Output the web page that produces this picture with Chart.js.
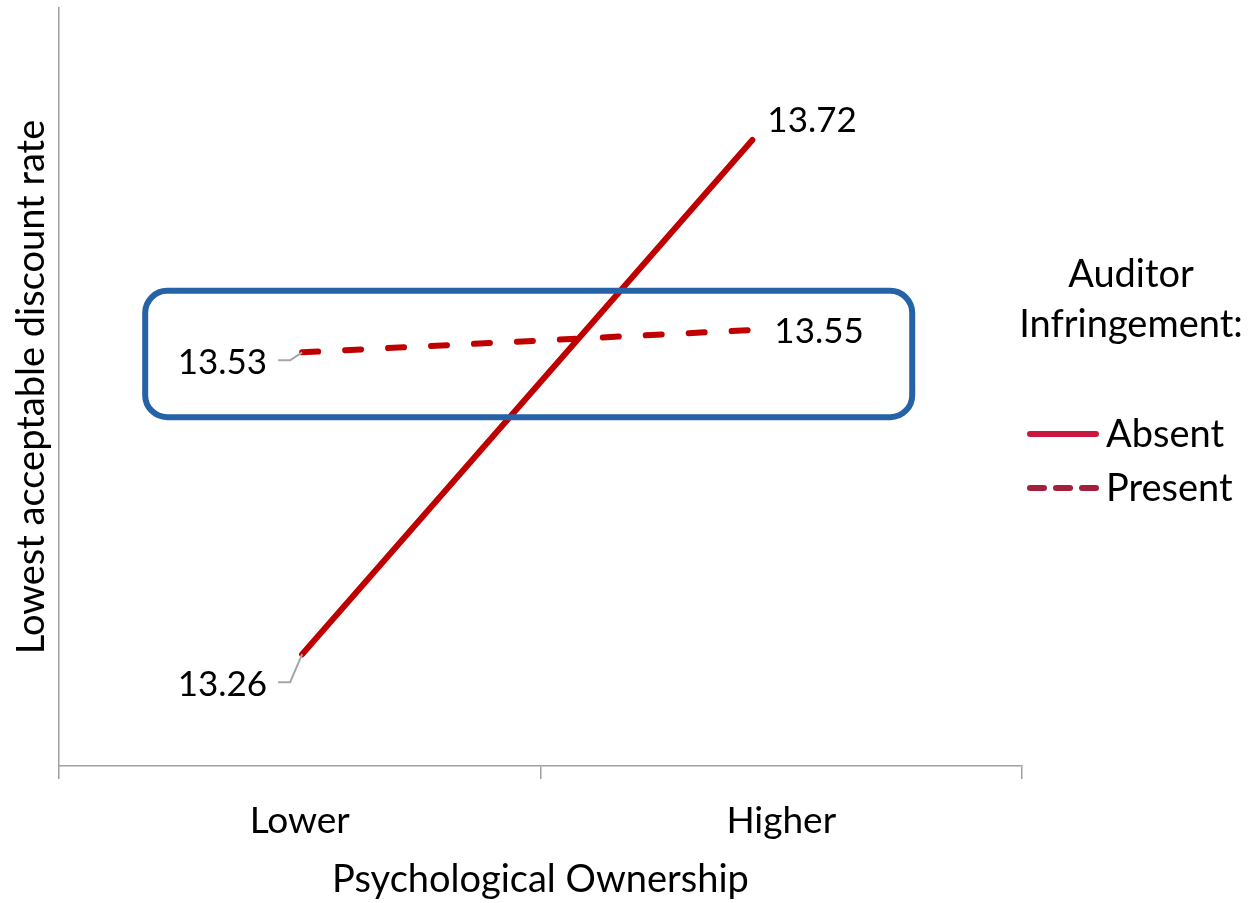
<!DOCTYPE html>
<html>
<head>
<meta charset="utf-8">
<script src="https://cdn.jsdelivr.net/npm/chart.js@4"></script>
<style>
  html, body { margin: 0; padding: 0; background: #fff; }
  #wrap { width: 1250px; height: 903px; }
</style>
</head>
<body>
<div id="wrap"><canvas id="chart" width="1250" height="903"></canvas></div>
<script>
// chart data
const categories = ['Lower', 'Higher'];
const pointPos = [0.505, 1.44];          // where the markers sit along the category axis (0..2)
const absentValues = [13.26, 13.72];
const presentValues = [13.53, 13.55];
const seriesNames = ['Absent', 'Present'];
const legendTitle = ['Auditor', 'Infringement:'];
const xTitle = 'Psychological Ownership';
const yTitle = 'Lowest acceptable discount rate';
const yRange = [13.16, 13.838];
const boxX = [0.179, 1.772];             // highlight box, in axis units
const boxY = [13.472, 13.585];

const FONT = 'Lato';
const AXIS_GREY = '#a0a0a0';

// where each data label goes, relative to its point (px)
const labelPlace = [
    [{dx: -35, dy: 42, align: 'right', leader: true}, {dx: 15, dy: -8, align: 'left'}],
    [{dx: -35, dy: 22, align: 'right', leader: true}, {dx: 22, dy: 13, align: 'left'}]
];

function points(vals){
    return vals.map((v, i) => ({x: pointPos[i], y: v}));
}

const overlay = {
    id: 'overlay',
    afterDatasetsDraw(chart){
        const ctx = chart.ctx;
        const xs = chart.scales.xd, ys = chart.scales.y;

        //highlight box
        const l = xs.getPixelForValue(boxX[0]), r = xs.getPixelForValue(boxX[1]);
        const t = ys.getPixelForValue(boxY[1]), b = ys.getPixelForValue(boxY[0]);
        ctx.save();
        ctx.strokeStyle = '#2562a6';
        ctx.lineWidth = 6;
        ctx.beginPath();
        ctx.roundRect(l, t, r - l, b - t, 22);
        ctx.stroke();
        ctx.restore();

        //data labels
        ctx.save();
        ctx.font = '35px ' + FONT;
        ctx.fillStyle = '#000';
        ctx.textBaseline = 'alphabetic';
        chart.data.datasets.forEach((ds, di) => {
            const meta = chart.getDatasetMeta(di);
            meta.data.forEach((pt, i) => {
                const p = labelPlace[di][i];
                const tx = pt.x + p.dx, ty = pt.y + p.dy;
                ctx.textAlign = p.align;
                ctx.fillText(ds.data[i].y.toFixed(2), tx, ty);
                if(p.leader){
                    ctx.strokeStyle = '#a6a6a6';
                    ctx.lineWidth = 2;
                    ctx.beginPath();
                    ctx.moveTo(tx + 11, ty - 14);
                    ctx.lineTo(tx + 23, ty - 14);
                    ctx.lineTo(pt.x, pt.y);
                    ctx.stroke();
                }
            });
        });
        ctx.restore();

        //legend
        ctx.save();
        ctx.fillStyle = '#000';
        ctx.font = '38px ' + FONT;
        ctx.textAlign = 'center';
        ctx.textBaseline = 'alphabetic';
        ctx.fillText(legendTitle[0], 1131, 287);
        ctx.fillText(legendTitle[1], 1131, 337);
        ctx.textAlign = 'left';
        ctx.textBaseline = 'middle';
        chart.data.datasets.forEach((ds, di) => {
            const y = 434 + di * 54;
            ctx.strokeStyle = ds.legendColor;
            ctx.lineWidth = 6;
            ctx.lineCap = 'round';
            ctx.setLineDash(ds.legendDash);
            ctx.beginPath();
            ctx.moveTo(1030, y);
            ctx.lineTo(1096, y);
            ctx.stroke();
            ctx.setLineDash([]);
            ctx.fillText(ds.label, 1106, y + 1);
        });
        ctx.restore();
    }
};

new Chart(document.getElementById('chart'), {
    type: 'line',
    data: {
        datasets: [
            {
                label: seriesNames[0],
                data: points(absentValues),
                xAxisID: 'xd',
                borderColor: '#c00000',
                borderWidth: 6,
                borderCapStyle: 'round',
                pointRadius: 0,
                legendColor: '#c9173f',
                legendDash: []
            },
            {
                label: seriesNames[1],
                data: points(presentValues),
                xAxisID: 'xd',
                borderColor: '#c00000',
                borderWidth: 6,
                borderCapStyle: 'round',
                borderDash: [16, 27],
                pointRadius: 0,
                legendColor: '#a3213b',
                legendDash: [14, 12]
            }
        ]
    },
    options: {
        responsive: false,
        animation: false,
        layout: {padding: {top: 8, right: 228, left: 0, bottom: 0}},
        plugins: {legend: {display: false}, tooltip: {enabled: false}},
        scales: {
            x: {
                type: 'category',
                labels: categories,
                offset: true,
                grid: {offset: true, drawOnChartArea: false, drawTicks: true, tickLength: 13, color: AXIS_GREY, lineWidth: 1.5},
                border: {color: AXIS_GREY, width: 1.5},
                ticks: {font: {family: FONT, size: 37}, color: '#000', padding: 20},
                title: {display: true, text: xTitle, font: {family: FONT, size: 38}, color: '#000', padding: {top: 0, bottom: 0}},
                afterFit: (s) => { s.height = 137; }
            },
            xd: {type: 'linear', min: 0, max: 2, display: false},
            y: {
                min: yRange[0],
                max: yRange[1],
                grid: {display: false},
                border: {color: AXIS_GREY, width: 1.5},
                ticks: {display: false},
                title: {display: true, text: yTitle, font: {family: FONT, size: 38}, color: '#000', padding: {top: 9, bottom: 0}},
                afterFit: (s) => { s.width = 59; }
            }
        }
    },
    plugins: [overlay]
});
</script>
</body>
</html>
